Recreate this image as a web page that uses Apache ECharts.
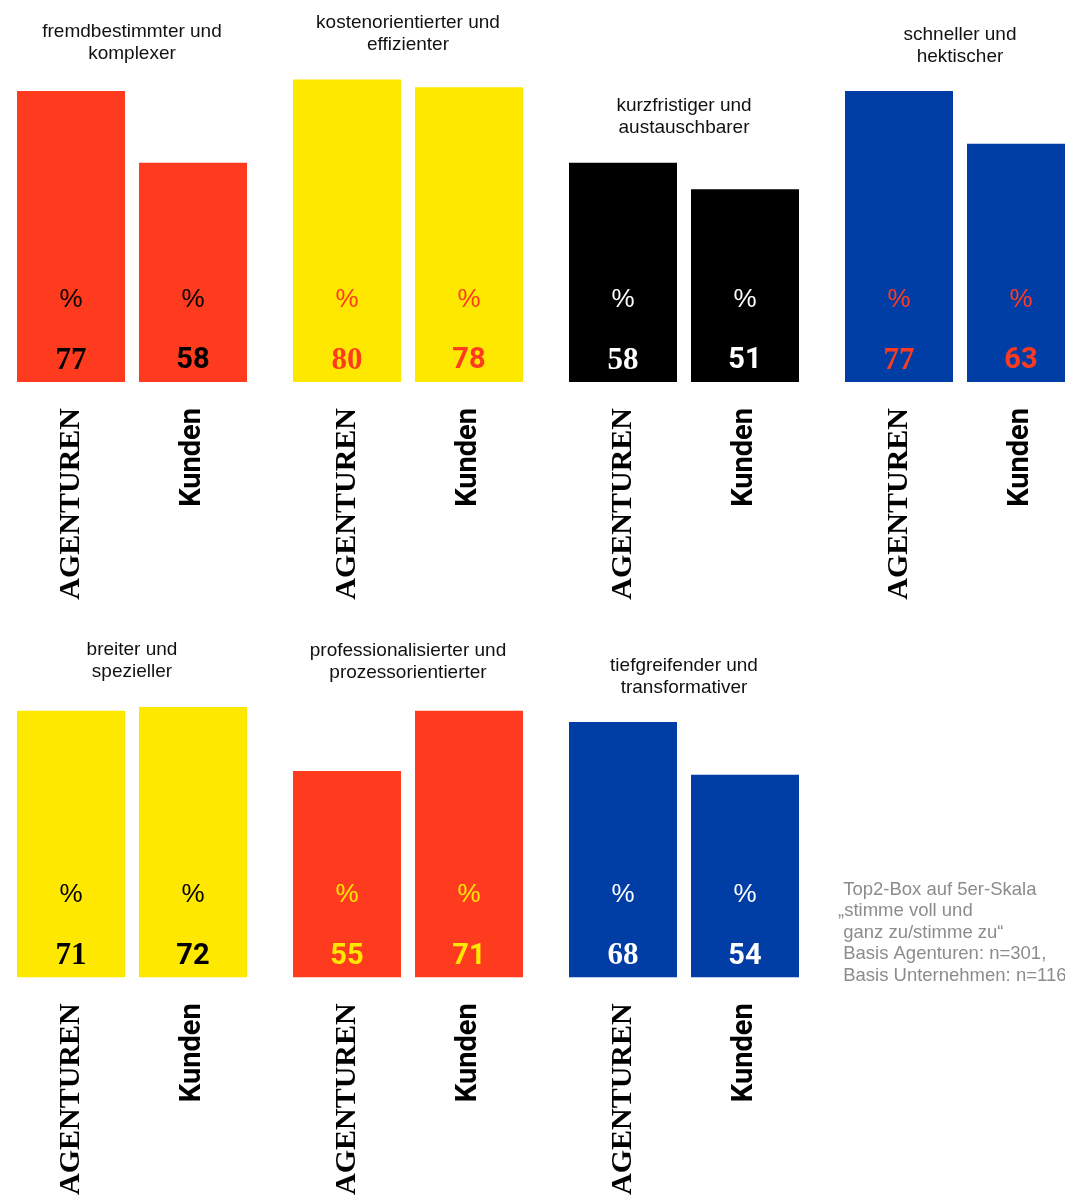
<!DOCTYPE html>
<html>
<head>
<meta charset="utf-8">
<script src="https://cdn.jsdelivr.net/npm/echarts@6/dist/echarts.min.js"></script>
<style>
html,body{margin:0;padding:0;background:#fff;overflow:hidden;width:1065px;height:1198px;}
#main{width:1100px;height:1198px;}
</style>
</head>
<body>
<div id="main"></div>
<script>
// ---- data ----
const categories = ['AGENTUREN', 'Kunden'];
const panelTitles = [
  'fremdbestimmter und\nkomplexer',
  'kostenorientierter und\neffizienter',
  'kurzfristiger und\naustauschbarer',
  'schneller und\nhektischer',
  'breiter und\nspezieller',
  'professionalisierter und\nprozessorientierter',
  'tiefgreifender und\ntransformativer'
];
const agenturenValues = [77, 80, 58, 77, 71, 55, 68];
const kundenValues = [58, 78, 51, 63, 72, 71, 54];
const footnote = ' Top2-Box auf 5er-Skala\n„stimme voll und\n ganz zu/stimme zu“\n Basis Agenturen: n=301,\n Basis Unternehmen: n=116';

// ---- styles ----
const RED = '#FF3B1F', YELLOW = '#FFE800', BLACK = '#000000', BLUE = '#003DA5', WHITE = '#ffffff';
const barColors = [RED, YELLOW, BLACK, BLUE, YELLOW, RED, BLUE];
const textColors = [BLACK, RED, WHITE, RED, BLACK, YELLOW, WHITE];
const agSerif = [true, true, true, true, true, false, true];
const gridLefts = [10, 286, 562, 838, 10, 286, 562];
const gridTops = [4, 4, 4, 4, 602, 602, 602];
const titleTops = [20, 11, 94, 23, 638, 639, 654];
const SANS = '"Liberation Sans", Arial, sans-serif';
const SERIF = '"Liberation Serif", "DejaVu Serif", serif';

const chart = echarts.init(document.getElementById('main'));
const grids = [], xAxes = [], yAxes = [], series = [], titles = [];

panelTitles.forEach((t, i) => {
  grids.push({ left: gridLefts[i], top: gridTops[i], width: 244, height: 378, containLabel: false });
  xAxes.push({
    type: 'category', gridIndex: i, data: categories,
    axisLine: { show: false }, axisTick: { show: false },
    axisLabel: {
      rotate: 90, margin: 26, interval: 0,
      formatter: v => v === 'AGENTUREN' ? '{a|' + v + '}' : '{k|' + v + '}',
      rich: {
        a: { fontFamily: SERIF, fontWeight: 'bold', fontSize: 30, color: '#000' },
        k: { fontFamily: 'Roboto, ' + SANS, fontWeight: 'bold', fontSize: 29, color: '#000' }
      }
    }
  });
  yAxes.push({ type: 'value', gridIndex: i, min: 0, max: 100, show: false, splitLine: { show: false } });
  const vals = [agenturenValues[i], kundenValues[i]];
  series.push({
    type: 'bar', xAxisIndex: i, yAxisIndex: i, barWidth: 108,
    data: vals,
    itemStyle: { color: barColors[i] },
    silent: true,
    label: {
      show: true, position: 'insideBottom', distance: 7,
      formatter: p => '{p|%}\n' + (p.dataIndex === 0 && agSerif[i] ? '{vs|' : '{v|') + p.value + '}',
      rich: {
        p: { fontFamily: SANS, fontSize: 26, color: textColors[i], lineHeight: 94, align: 'center' },
        vs: { fontFamily: SERIF, fontWeight: 'bold', fontSize: 31, color: textColors[i], lineHeight: 28, align: 'center' },
        v: { fontFamily: 'Roboto, ' + SANS, fontWeight: 'bold', fontSize: 29, color: textColors[i], lineHeight: 28, align: 'center' }
      }
    }
  });
  titles.push({
    text: t, left: gridLefts[i] + 122, top: titleTops[i] + 1, textAlign: 'center', padding: 0,
    textStyle: { fontFamily: SANS, fontWeight: 'normal', fontSize: 19, lineHeight: 22, color: '#111' }
  });
});

titles.push({
  text: footnote, left: 838, top: 879, textAlign: 'left', padding: 0,
  textStyle: { fontFamily: SANS, fontWeight: 'normal', fontSize: 18.5, lineHeight: 21.5, color: '#8c8c8c' }
});

chart.setOption({
  animation: false,
  backgroundColor: '#ffffff',
  title: titles,
  grid: grids,
  xAxis: xAxes,
  yAxis: yAxes,
  series: series
});
</script>
</body>
</html>
